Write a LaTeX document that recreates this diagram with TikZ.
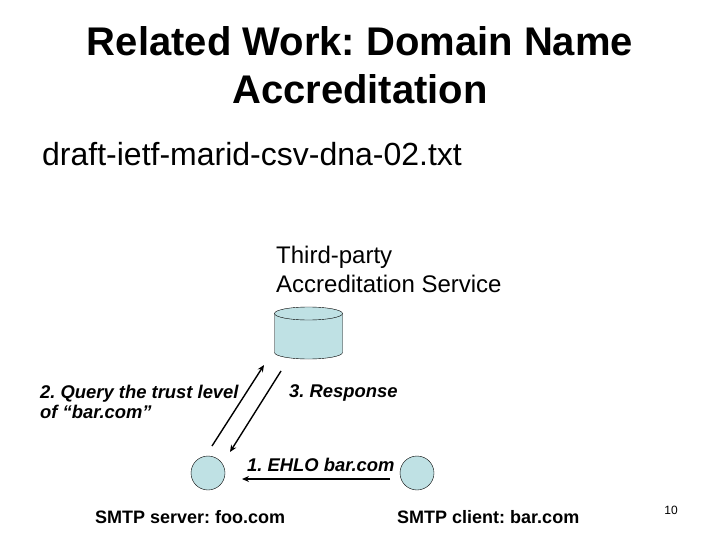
\documentclass[tikz,border=0pt]{standalone}
\usepackage{fontspec}
\setmainfont{Liberation Sans}
\frenchspacing
\usetikzlibrary{arrows.meta,positioning}
\definecolor{dbfill}{RGB}{191,225,228}

\begin{document}
\begin{tikzpicture}[x=1pt,y=-1pt,
    txt/.style={inner sep=0pt,anchor=west},
    lbl/.style={txt,font=\fontsize{18.4}{20}\selectfont\bfseries\itshape},
    host/.style={circle,draw,fill=dbfill,minimum size=34pt,inner sep=0pt},
    msg/.style={-{Stealth[length=7pt,width=6pt]},line width=1.4pt}]
    \useasboundingbox[fill=white] (0,0) rectangle (720,540);

    % Title
    \node[font=\fontsize{40}{48}\selectfont\bfseries,align=center] (title) at (360,65)
        {Related Work: Domain Name\\Accreditation};
    \node[txt,font=\fontsize{32}{38}\selectfont] (draft) at (42,154) {draft-ietf-marid-csv-dna-02.txt};

    % Accreditation service
    \node[txt,font=\fontsize{24}{29}\selectfont,align=left] (svc) at (276,269)
        {Third-party\\Accreditation Service};
    \coordinate (acc) at (308.5,313.5);
    \filldraw[fill=dbfill] (274.5,313.5) -- (274.5,352.5)
        arc[start angle=180,end angle=360,x radius=34pt,y radius=6.5pt]
        -- (342.5,313.5) -- cycle;
    \filldraw[fill=dbfill] (acc) ellipse[x radius=34pt,y radius=6.5pt];

    % Hosts
    \node[host] (srv) at (208,473) {};
    \node[host] (cli) at (417,473) {};
    \node[txt,font=\fontsize{18}{20}\selectfont\bfseries] (srvname) at (95,517) {SMTP server: foo.com};
    \node[txt,font=\fontsize{18}{20}\selectfont\bfseries] (cliname) at (397,517) {SMTP client: bar.com};

    % Messages
    \coordinate (q0) at (212,446);
    \coordinate (q1) at (264,365);
    \coordinate (r0) at (281,371);
    \coordinate (r1) at (230,452);
    \coordinate (e0) at (390,479);
    \coordinate (e1) at (242,479);
    \draw[msg] (q0) -- (q1);
    \draw[msg] (r0) -- (r1);
    \draw[msg] (e0) -- (e1);

    \node[lbl,align=left] (query) at (40,402) {2. Query the trust level\\of “bar.com”};
    \node[lbl] (resp) at (289,393) {3. Response};
    \node[lbl] (ehlo) at (247,465) {1. EHLO bar.com};

    % Page number
    \node[font=\fontsize{12}{14}\selectfont] (page) at (671,510) {10};
\end{tikzpicture}
\end{document}
